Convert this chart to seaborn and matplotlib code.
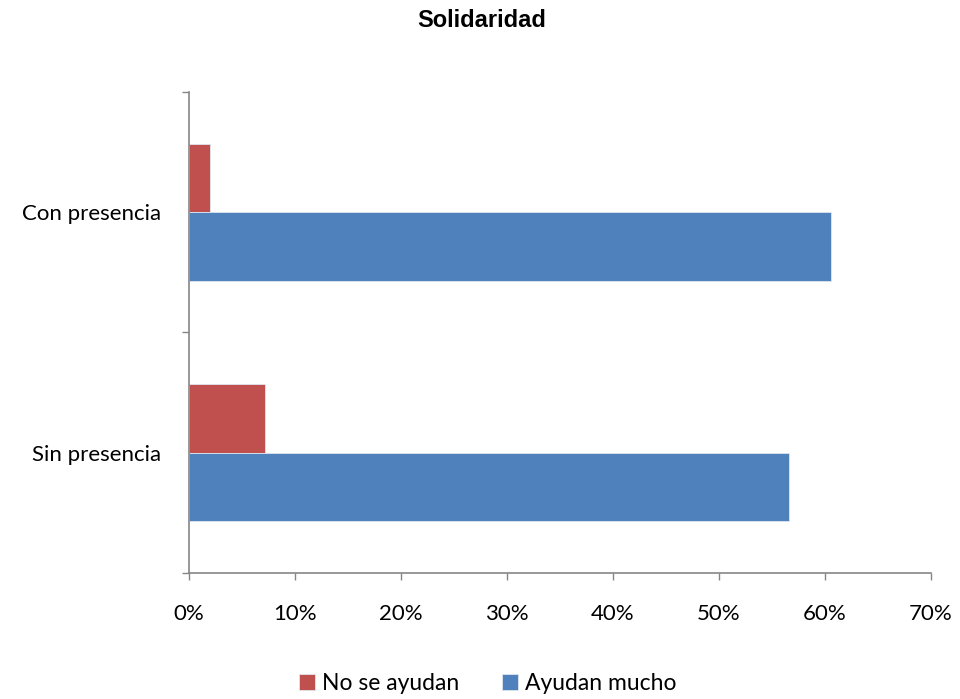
import pandas as pd
import matplotlib
matplotlib.use("Agg")
import matplotlib.pyplot as plt
import seaborn as sns
from matplotlib.ticker import FixedLocator, PercentFormatter

# -- data
categories = ["Con presencia", "Sin presencia"]
series = ["No se ayudan", "Ayudan mucho"]
no_se_ayudan = [2.0, 7.2]
ayudan_mucho = [60.6, 56.6]

df = pd.DataFrame({
    "grupo": categories * 2,
    "serie": [series[0]] * 2 + [series[1]] * 2,
    "valor": no_se_ayudan + ayudan_mucho,
})

sns.set_style("white")
plt.rcParams["font.family"] = ["Lato", "DejaVu Sans"]
plt.rcParams["text.color"] = "black"
plt.rcParams["xtick.labelcolor"] = "black"
plt.rcParams["ytick.labelcolor"] = "black"

fig = plt.figure(figsize=(9.6, 6.99), dpi=100)
ax = fig.add_axes([0.1969, 0.1803, 0.7729, 0.6881])

palette = {"No se ayudan": "#C0504D", "Ayudan mucho": "#4F81BD"}
sns.barplot(data=df, x="valor", y="grupo", hue="serie", order=categories,
            hue_order=series, palette=palette, orient="h", width=0.57,
            edgecolor="#dfe6f0", linewidth=0.6, saturation=1, ax=ax)

ax.set_xlim(0, 70)
ax.set_ylim(1.5, -0.5)
ax.set_xticks(range(0, 71, 10))
ax.xaxis.set_major_formatter(PercentFormatter(decimals=0))
ax.set_xlabel("")
ax.set_ylabel("")

# category boundary ticks like the spreadsheet look
ax.yaxis.set_minor_locator(FixedLocator([-0.5, 0.5, 1.5]))
ax.tick_params(axis="y", which="major", length=0, labelsize=16, pad=20, labelcolor="black")
ax.tick_params(axis="y", which="minor", length=5, width=1, color="#868686", direction="out", left=True)
ax.tick_params(axis="x", which="major", length=5, width=1, color="#868686", direction="out",
               bottom=True, labelsize=16, pad=17, labelcolor="black")

for s in ["top", "right"]:
    ax.spines[s].set_visible(False)
for s in ["left", "bottom"]:
    ax.spines[s].set_color("#868686")
    ax.spines[s].set_linewidth(1.2)

fig.suptitle("Solidaridad", x=0.502, y=0.987, fontsize=17, fontweight="bold",
             color="black", family=["Liberation Sans", "DejaVu Sans"])

ax.legend(loc="center", bbox_to_anchor=(0.508, 0.022), bbox_transform=fig.transFigure,
          ncol=2, frameon=False, fontsize=16.5, handlelength=0.7, handleheight=0.7,
          handletextpad=0.3, columnspacing=1.9, labelcolor="black")

plt.savefig("out.png", dpi=100)
